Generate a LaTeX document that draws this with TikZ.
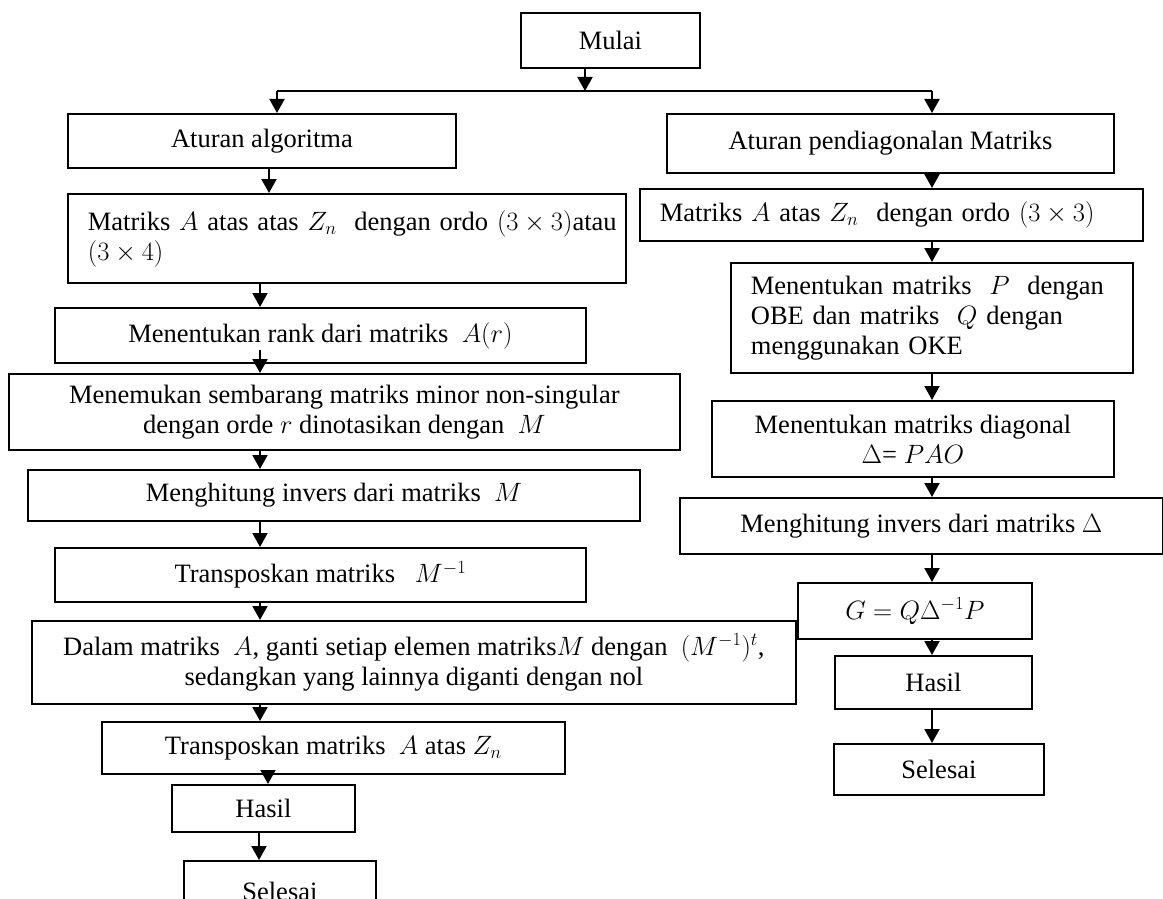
\RequirePackage{fix-cm}
\documentclass[tikz,border=0pt]{standalone}
\usepackage{fontspec}
\setmainfont{Liberation Serif}
\usetikzlibrary{arrows.meta}
\begin{document}
\begin{tikzpicture}[x=1pt,y=-1pt,
  box/.style={draw=black,line width=1.8pt,inner sep=0pt,anchor=north west,
    font=\fontsize{26.5}{30}\selectfont,align=center},
  lbox/.style={box,align=left,inner xsep=20pt},
  arr/.style={line width=2pt,-{Triangle[length=14pt,width=15pt]}},
  ln/.style={line width=2pt}]
\clip (0,0) rectangle (1163,899);
\fill[white] (0,0) rectangle (1163,899);
% start
\node[box,minimum width=179pt,minimum height=55pt] (mulai) at (520,12) {Mulai};
% left column
\node[box,minimum width=388pt,minimum height=54pt] (a1) at (67,113) {Aturan algoritma};
\node[lbox,minimum width=558pt,minimum height=89pt,text width=518pt] (a2) at (67,193)
  {\mbox{Matriks $A$ atas atas $Z_n$\ \ dengan ordo $(3\times 3)$atau}\\$(3\times 4)$};
\node[box,minimum width=531pt,minimum height=55pt] (a3) at (54,307) {Menentukan rank dari matriks\ \ $A(r)$};
\node[box,minimum width=671pt,minimum height=76pt] (a4) at (8,373)
  {Menemukan sembarang matriks minor non-singular\\dengan orde $r$ dinotasikan dengan\ \ $M$};
\node[box,minimum width=612pt,minimum height=51pt] (a5) at (27,469) {Menghitung invers dari matriks\ \ $M$};
\node[box,minimum width=531pt,minimum height=54pt] (a6) at (54,547) {Transposkan matriks\ \ \ $M^{-1}$};
\node[box,minimum width=764pt,minimum height=83pt] (a7) at (31,620)
  {\mbox{Dalam matriks\ \ $A$, ganti setiap elemen matriks$M$ dengan\ \ $(M^{-1})^t$,}\\sedangkan yang lainnya diganti dengan nol};
\node[box,minimum width=463pt,minimum height=52pt] (a8) at (101,721) {Transposkan matriks\ \ $A$ atas $Z_n$};
\node[box,minimum width=183pt,minimum height=47pt] (a9) at (171,784) {Hasil};
\node[box,minimum width=192pt,minimum height=62pt] (a10) at (183,860) {Selesai};
% right column
\node[box,minimum width=447pt,minimum height=59pt] (b1) at (666,113) {Aturan pendiagonalan Matriks};
\node[lbox,minimum width=503pt,minimum height=52pt,text width=463pt] (b2) at (639,188)
  {\mbox{Matriks $A$ atas $Z_n$\ \ dengan ordo $(3\times 3)$}};
\node[lbox,minimum width=402pt,minimum height=110pt,text width=362pt] (b3) at (730,262)
  {\mbox{Menentukan matriks\ \ $P$\ \ dengan}\\\mbox{OBE dan matriks\ \ $Q$ dengan}\\menggunakan OKE};
\node[box,minimum width=402pt,minimum height=76pt] (b4) at (711,400)
  {Menentukan matriks diagonal\\$\Delta$= $PAO$};
\node[box,minimum width=483pt,minimum height=56pt] (b5) at (679,497) {Menghitung invers dari matriks $\Delta$};
\node[box,minimum width=234pt,minimum height=56pt] (b6) at (797,582) {$G=Q\Delta^{-1}P$};
\node[box,minimum width=197pt,minimum height=53pt] (b7) at (834,655) {Hasil};
\node[box,minimum width=210pt,minimum height=51pt] (b8) at (833,743) {Selesai};
% connector positions
\coordinate (j0) at (585,91);
\coordinate (jl) at (277,91);
\coordinate (jr) at (932,91);
\coordinate (xa) at (269,0);
\coordinate (xb) at (260,0);
\coordinate (xc) at (268,0);
\coordinate (xd) at (259,0);
\coordinate (xr) at (932,0);
\draw[arr] (mulai.south -| j0) -- (j0);
\draw[ln] (jl) -- (jr);
\draw[arr] (jl) -- (jl |- a1.north);
\draw[arr] (jr) -- (jr |- b1.north);
% left connectors
\draw[arr] (xa |- a1.south) -- (xa |- a2.north);
\draw[arr] (xb |- a2.south) -- (xb |- a3.north);
\path (xb |- a3.south) ++(0,-14) coordinate (s3);
\draw[arr] (s3) -- (xb |- a4.north);
\draw[arr] (xb |- a4.south) -- (xb |- a5.north);
\draw[arr] (xb |- a5.south) -- (xb |- a6.north);
\draw[arr] (xb |- a6.south) -- (xb |- a7.north);
\draw[arr] (xb |- a7.south) -- (xb |- a8.north);
\draw[arr] (xc |- a8.south) -- (xc |- a9.north);
\draw[arr] (xd |- a9.south) -- (xd |- a10.north);
% right connectors
\draw[arr] (xr |- b1.south) -- (xr |- b2.north);
\draw[arr] (xr |- b2.south) -- (xr |- b3.north);
\draw[arr] (xr |- b3.south) -- (xr |- b4.north);
\draw[arr] (xr |- b4.south) -- (xr |- b5.north);
\draw[arr] (xr |- b5.south) -- (xr |- b6.north);
\draw[arr] (xr |- b6.south) -- (xr |- b7.north);
\draw[arr] (xr |- b7.south) -- (xr |- b8.north);
\end{tikzpicture}
\end{document}
